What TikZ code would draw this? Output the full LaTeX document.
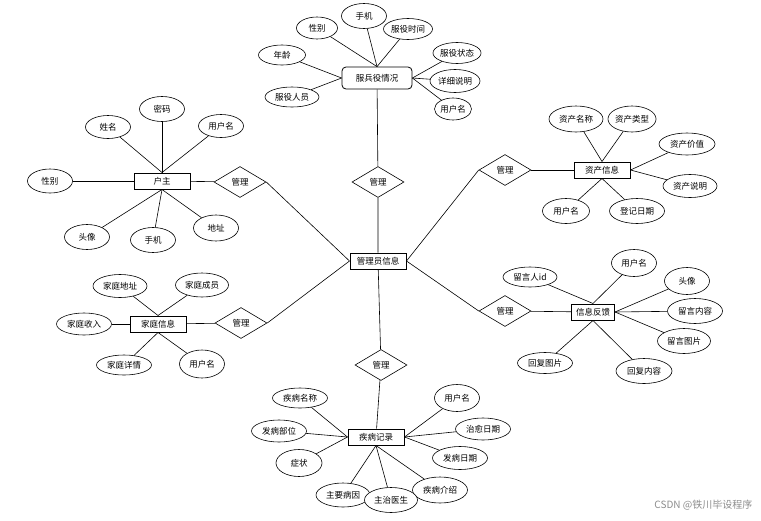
\documentclass[tikz,border=0pt]{standalone}
\usepackage{fontspec}
\newfontfamily\cjk{Noto Sans CJK SC}
\usetikzlibrary{shapes.geometric}

\begin{document}
\begin{tikzpicture}[x=1pt,y=-1pt,line width=.6pt,
font=\cjk\fontsize{8.5pt}{10pt}\selectfont,
attr/.style={ellipse,draw,fill=white,inner sep=0pt,minimum width=54pt,minimum height=23pt},
sattr/.style={attr,minimum width=45pt,minimum height=25pt},
ent/.style={rectangle,draw,fill=white,line width=1pt,inner sep=1pt,minimum width=56pt,minimum height=16pt},
rel/.style={diamond,draw,fill=white,inner sep=0pt,minimum width=52pt,minimum height=31pt}]
\useasboundingbox (0,0) rectangle (761,520);
% entities
\node[ent] (admin) at (378,261) {管理员信息};
\node[ent,rounded corners=4pt,minimum width=70pt,minimum height=22pt,line width=.8pt] (svc) at (377,78) {服兵役情况};
\node[ent] (host) at (162,181) {户主};
\node[ent] (asset) at (602,170) {资产信息};
\node[ent] (family) at (158,324) {家庭信息};
\node[ent,minimum width=43pt] (fb) at (593,312) {信息反馈};
\node[ent] (ill) at (376,437) {疾病记录};
% relations
\node[rel] (rsvc) at (378,182) {管理};
\node[rel] (rhost) at (240,182) {管理};
\node[rel] (rasset) at (505,170) {管理};
\node[rel] (rfamily) at (241,323) {管理};
\node[rel] (rfb) at (505,311) {管理};
\node[rel] (rill) at (381,365) {管理};
\draw (svc) -- (rsvc) -- (admin);
\draw (host) -- (rhost); \draw (rhost.east) -- (admin.west);
\draw (family) -- (rfamily); \draw (rfamily.east) -- (admin.west);
\draw (asset) -- (rasset); \draw (rasset.west) -- (admin.east);
\draw (fb) -- (rfb); \draw (rfb.west) -- (admin.east);
\draw (admin) -- (rill) -- (ill);
% 服兵役情况
\node[sattr] (s1) at (364,16) {手机};
\node[attr,minimum width=41pt,minimum height=22pt] (s2) at (317,28) {性别};
\node[attr,minimum width=49pt,minimum height=21pt] (s3) at (408,29) {服役时间};
\node[attr,minimum width=47pt,minimum height=20pt] (s4) at (282,55) {年龄};
\node[attr,minimum height=20pt] (s5) at (292,97) {服役人员};
\node[attr,minimum width=47pt,minimum height=21pt] (s6) at (457,53) {服役状态};
\node[attr,minimum width=50pt] (s7) at (455,81) {详细说明};
\node[attr,minimum width=37pt,minimum height=22pt] (s8) at (453,109) {用户名};
\draw (s1) -- (svc.north); \draw (s2) -- (svc.north); \draw (s3) -- (svc.north);
\draw (s4) -- (svc.west); \draw (s5) -- (svc.west);
\draw (s6) -- (svc.east); \draw (s7) -- (svc.east); \draw (s8) -- (svc.east);
% 户主
\node[sattr] (h1) at (162,109) {密码};
\node[sattr,minimum height=23pt] (h2) at (108,127) {姓名};
\node[sattr,minimum height=23pt] (h3) at (221,126) {用户名};
\node[sattr,minimum height=24pt] (h4) at (50,181) {性别};
\node[sattr] (h5) at (87,237) {头像};
\node[sattr] (h6) at (153,240) {手机};
\node[sattr,minimum height=26pt] (h7) at (216,228) {地址};
\draw (h1) -- (host.north); \draw (h2) -- (host.north); \draw (h3) -- (host.north);
\draw (h4) -- (host.west);
\draw (h5) -- (host.south); \draw (h6) -- (host.south); \draw (h7) -- (host.south);
% 资产信息
\node[attr,minimum height=26pt] (a1) at (576,119) {资产名称};
\node[attr,minimum width=47pt,minimum height=26pt] (a2) at (632,119) {资产类型};
\node[attr,minimum width=56pt,minimum height=22pt] (a3) at (687,144) {资产价值};
\node[attr] (a4) at (690,186) {资产说明};
\node[sattr,minimum width=47pt] (a5) at (566,211) {用户名};
\node[attr,minimum width=55pt,minimum height=25pt] (a6) at (637,211) {登记日期};
\draw (a1) -- (asset.north); \draw (a2) -- (asset.north);
\draw (a3) -- (asset.east); \draw (a4) -- (asset.east);
\draw (a5) -- (asset.south); \draw (a6) -- (asset.south);
% 家庭信息
\node[attr] (f1) at (120,286) {家庭地址};
\node[attr,minimum width=53pt,minimum height=24pt] (f2) at (202,285) {家庭成员};
\node[attr,minimum width=55pt,minimum height=22pt] (f3) at (84,324) {家庭收入};
\node[attr,minimum width=55pt,minimum height=20pt] (f4) at (124,365) {家庭详情};
\node[sattr,minimum height=28pt] (f5) at (202,364) {用户名};
\draw (f1) -- (family.north); \draw (f2) -- (family.north);
\draw (f3) -- (family.west);
\draw (f4) -- (family.south); \draw (f5) -- (family.south);
% 信息反馈
\node[attr,minimum height=20pt] (b1) at (530,277) {留言人id};
\node[sattr,minimum height=27pt] (b2) at (634,263) {用户名};
\node[sattr,minimum height=27pt] (b3) at (687,281) {头像};
\node[attr,minimum width=55pt,minimum height=25pt] (b4) at (695,311) {留言内容};
\node[attr,minimum width=53pt,minimum height=25pt] (b5) at (684,341) {留言图片};
\node[attr,minimum width=55pt,minimum height=21pt] (b6) at (545,363) {回复图片};
\node[attr,minimum width=56pt,minimum height=25pt] (b7) at (644,371) {回复内容};
\draw (b1) -- (fb.north); \draw (b2) -- (fb.north);
\draw (b3) -- (fb.east); \draw (b4) -- (fb.east); \draw (b5) -- (fb.east);
\draw (b6) -- (fb.south); \draw (b7) -- (fb.south);
% 疾病记录
\node[attr,minimum width=55pt,minimum height=20pt] (d1) at (300,398) {疾病名称};
\node[attr,minimum width=55pt,minimum height=22pt] (d2) at (279,431) {发病部位};
\node[sattr,minimum width=46pt,minimum height=27pt] (d3) at (299,463) {症状};
\node[attr,minimum height=24pt] (d4) at (343,495) {主要病因};
\node[attr,minimum width=55pt,minimum height=26pt] (d6) at (440,490) {疾病介绍};
\node[attr,minimum width=53pt,minimum height=25pt] (d5) at (391,500) {主治医生};
\node[sattr,minimum height=27pt] (d7) at (457,398) {用户名};
\node[attr,minimum width=55pt,minimum height=22pt] (d8) at (483,429) {治愈日期};
\node[attr,minimum width=55pt,minimum height=23pt] (d9) at (460,458) {发病日期};
\draw (d1) -- (ill.west); \draw (d2) -- (ill.west); \draw (d3) -- (ill.west);
\draw (d4) -- (ill.south); \draw (d5) -- (ill.south); \draw (d6) -- (ill.south);
\draw (d7) -- (ill.east); \draw (d8) -- (ill.east); \draw (d9) -- (ill.east);
% watermark
\node[text=black!45,font=\cjk\fontsize{10pt}{12pt}\selectfont,anchor=east] (mark) at (756,505) {CSDN @铁川毕设程序};
\end{tikzpicture}
\end{document}
